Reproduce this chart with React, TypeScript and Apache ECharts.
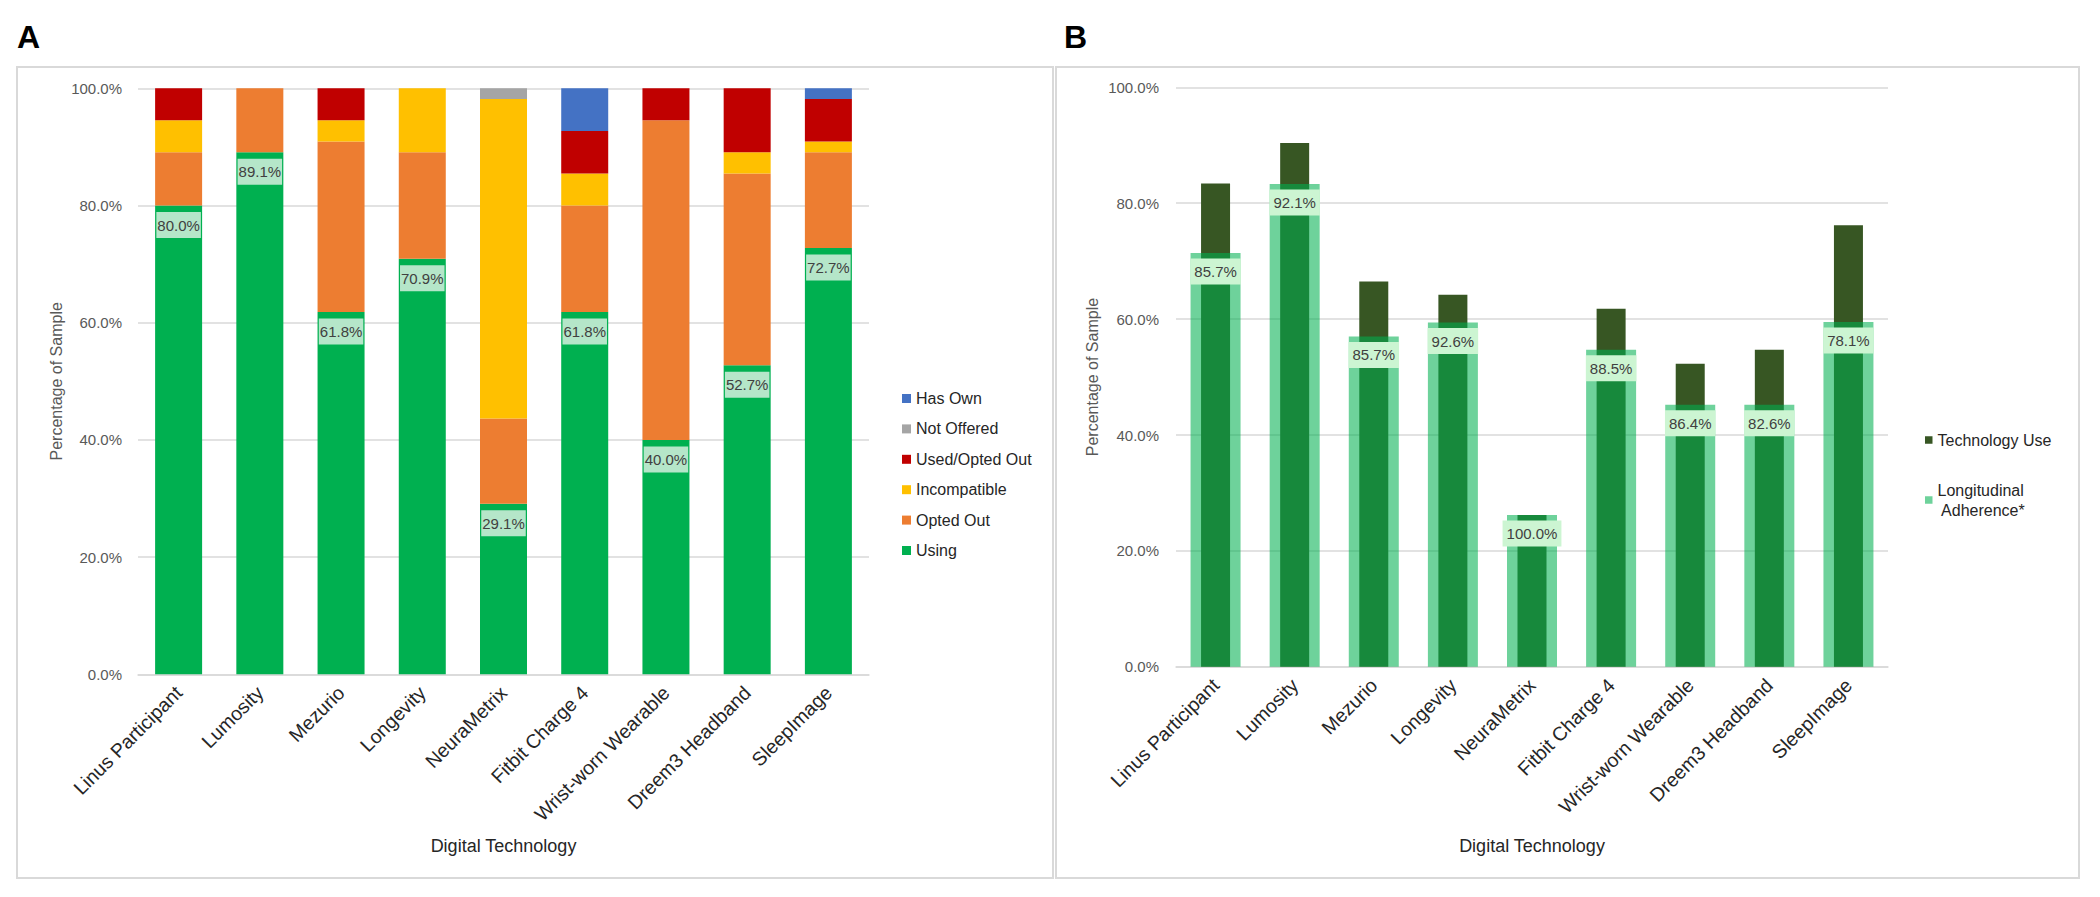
import React, { useEffect, useRef } from 'react';
import * as echarts from 'echarts';

const categories = ['Linus Participant', 'Lumosity', 'Mezurio', 'Longevity', 'NeuraMetrix', 'Fitbit Charge 4', 'Wrist-worn Wearable', 'Dreem3 Headband', 'SleepImage'];

// Panel A (percent of sample)
const using = [80.0, 89.09, 61.82, 70.91, 29.09, 61.82, 40.0, 52.73, 72.73];
const optedOut = [9.09, 10.91, 29.09, 18.18, 14.55, 18.18, 54.55, 32.73, 16.36];
const incompatible = [5.45, 0, 3.64, 10.91, 54.55, 5.45, 0, 3.64, 1.82];
const usedOptedOut = [5.45, 0, 5.45, 0, 0, 7.27, 5.45, 10.91, 7.27];
const notOffered = [0, 0, 0, 0, 1.82, 0, 0, 0, 0];
const hasOwn = [0, 0, 0, 0, 0, 7.27, 0, 0, 1.82];

// Panel B
const technologyUse = [83.4, 90.4, 66.5, 64.2, 26.2, 61.8, 52.3, 54.7, 76.2];
const adherenceHeight = [71.4, 83.3, 57.0, 59.4, 26.2, 54.7, 45.2, 45.2, 59.5];
const adherenceLabels = ['85.7%', '92.1%', '85.7%', '92.6%', '100.0%', '88.5%', '86.4%', '82.6%', '78.1%'];

const legendA = ['Has Own', 'Not Offered', 'Used/Opted Out', 'Incompatible', 'Opted Out', 'Using'];
const legendB = ['Technology Use', 'Longitudinal Adherence*'];

const FONT = '"Liberation Sans", Arial, sans-serif';

export default function App() {
  const ref = useRef<HTMLDivElement>(null);
  useEffect(() => {
    document.body.style.margin = '0';
    const chart = echarts.init(ref.current!, undefined, { renderer: 'svg' });
    const pct = (v: number) => v.toFixed(1) + '%';
    const xAxisBase = (gridIndex: number, nameGap: number) => ({
      type: 'category',
      gridIndex,
      data: categories,
      axisTick: { show: false },
      axisLine: { lineStyle: { color: '#D9D9D9', width: 1.5 } },
      axisLabel: { rotate: 45, interval: 0, margin: 15, fontSize: 19.5, color: '#262626', fontFamily: FONT },
      name: 'Digital Technology',
      nameLocation: 'middle',
      nameGap,
      nameTextStyle: { fontSize: 18, color: '#262626', fontFamily: FONT },
    });
    const yAxisBase = (gridIndex: number, margin: number, nameGap: number) => ({
      type: 'value',
      gridIndex,
      min: 0,
      max: 100,
      interval: 20,
      axisLabel: { formatter: pct, fontSize: 15, color: '#595959', margin, fontFamily: FONT },
      axisLine: { show: false },
      axisTick: { show: false },
      splitLine: { lineStyle: { color: '#D9D9D9', width: 1.5 } },
      name: 'Percentage of Sample',
      nameLocation: 'middle',
      nameGap,
      nameTextStyle: { fontSize: 16, color: '#595959', fontFamily: FONT },
    });
    const stackA = (name: string, data: number[], color: string, extra: any = {}) => ({
      name,
      type: 'bar',
      stack: 'a',
      xAxisIndex: 0,
      yAxisIndex: 0,
      barWidth: 47,
      data,
      itemStyle: { color },
      ...extra,
    });
    chart.setOption({
      animation: false,
      textStyle: { fontFamily: FONT },
      grid: [
        { left: 138, top: 88.3, width: 731, height: 586 },
        { left: 1176, top: 87.3, width: 712, height: 579.5 },
      ],
      xAxis: [
        xAxisBase(0, 163),
        xAxisBase(1, 170),
        { type: 'category', gridIndex: 1, data: categories, show: false },
      ],
      yAxis: [yAxisBase(0, 16, 74), yAxisBase(1, 17, 76)],
      legend: [
        {
          data: legendA,
          orient: 'vertical',
          left: 897,
          top: 384.5,
          icon: 'rect',
          itemWidth: 9,
          itemHeight: 9,
          itemGap: 12.4,
          itemTextGap: 5,
          selectedMode: false,
          textStyle: { fontSize: 16, color: '#262626', lineHeight: 18, fontFamily: FONT },
        },
        {
          data: legendB,
          orient: 'vertical',
          left: 1920,
          top: 425,
          icon: 'rect',
          itemWidth: 7.5,
          itemHeight: 7.5,
          itemGap: 30,
          itemTextGap: 5,
          selectedMode: false,
          formatter: (n: string) => (n === 'Longitudinal Adherence*' ? 'Longitudinal\n Adherence*' : n),
          textStyle: { fontSize: 16, color: '#262626', lineHeight: 20, fontFamily: FONT },
        },
      ],
      graphic: [
        { type: 'rect', shape: { x: 17, y: 67, width: 1036, height: 811 }, style: { fill: 'none', stroke: '#D9D9D9', lineWidth: 2 } },
        { type: 'rect', shape: { x: 1056, y: 67, width: 1023, height: 811 }, style: { fill: 'none', stroke: '#D9D9D9', lineWidth: 2 } },
        { type: 'text', x: 17, y: 36.5, style: { text: 'A', fontSize: 32, fontWeight: 'bold', fontFamily: FONT, fill: '#000', verticalAlign: 'middle' } },
        { type: 'text', x: 1064, y: 36.5, style: { text: 'B', fontSize: 32, fontWeight: 'bold', fontFamily: FONT, fill: '#000', verticalAlign: 'middle' } },
      ],
      series: [
        stackA('Using', using, '#00B050', {
          label: {
            show: true,
            position: 'insideTop',
            distance: 6.5,
            formatter: (p: any) => pct(p.value),
            backgroundColor: '#B5E6C9',
            padding: [4, 1],
            fontSize: 15,
            lineHeight: 18,
            color: '#404040',
            fontFamily: FONT,
          },
        }),
        stackA('Opted Out', optedOut, '#ED7D31'),
        stackA('Incompatible', incompatible, '#FFC000'),
        stackA('Used/Opted Out', usedOptedOut, '#C00000'),
        stackA('Not Offered', notOffered, '#A5A5A5'),
        stackA('Has Own', hasOwn, '#4472C4'),
        {
          name: 'Technology Use',
          type: 'bar',
          xAxisIndex: 1,
          yAxisIndex: 1,
          barWidth: 29,
          data: technologyUse,
          itemStyle: { color: '#375623' },
        },
        {
          name: 'Longitudinal Adherence*',
          type: 'bar',
          xAxisIndex: 2,
          yAxisIndex: 1,
          barWidth: 50,
          data: adherenceHeight,
          itemStyle: { color: 'rgba(0,176,80,0.57)' },
          label: {
            show: true,
            position: 'insideTop',
            distance: 5.5,
            formatter: (p: any) => adherenceLabels[p.dataIndex],
            backgroundColor: '#CCF5D2',
            padding: [4, 4],
            fontSize: 15,
            lineHeight: 18,
            color: '#404040',
            fontFamily: FONT,
          },
        },
      ],
    });
    return () => chart.dispose();
  }, []);
  return <div ref={ref} style={{ width: 2100, height: 897 }} />;
}
